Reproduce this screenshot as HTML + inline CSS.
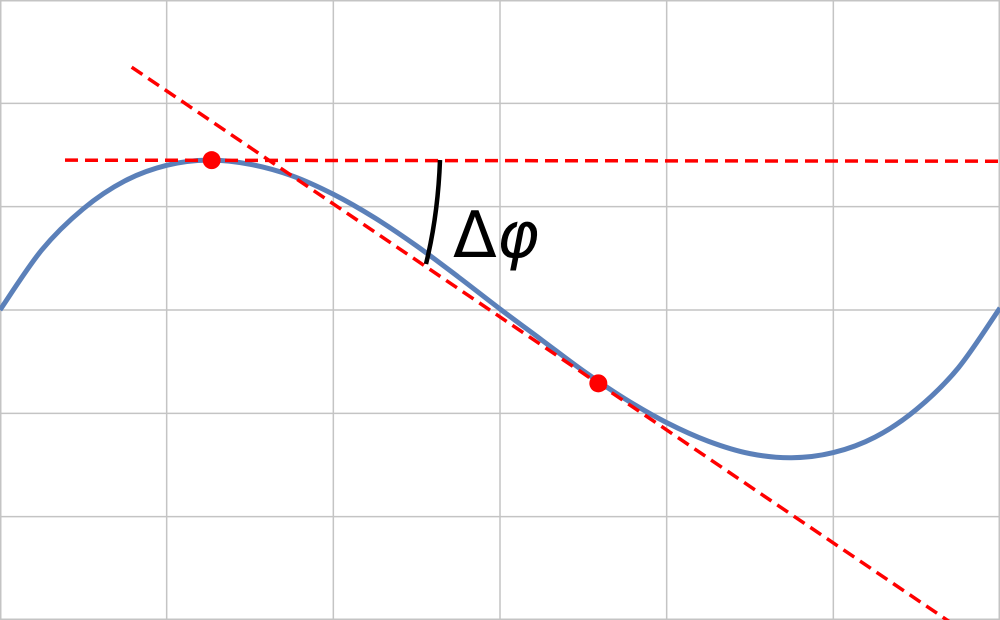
<!DOCTYPE html>
<html><head><meta charset="utf-8"><style>
html,body{margin:0;padding:0;background:#fff;}
svg{display:block;}
</style></head><body>
<svg id="chart" width="1000" height="620" viewBox="0 0 1000 620" xmlns="http://www.w3.org/2000/svg">
<g id="grid"></g>
<g id="marks"></g>
</svg>
<script>
const xTicks = [0,1,2,3,4,5,6];
const yTicks = [-3,-2,-1,0,1,2,3];
const curveX = [0,0.25,0.5,0.75,1,1.25,1.5,1.75,2,2.25,2.5,2.75,3,3.25,3.5,3.75,4,4.25,4.5,4.75,5,5.25,5.5,5.75,6];
const curveY = [0,0.58,0.98,1.25,1.40,1.45,1.41,1.30,1.12,0.89,0.62,0.32,0.01,-0.29,-0.59,-0.86,-1.09,-1.27,-1.39,-1.43,-1.38,-1.23,-0.96,-0.56,0.02];
const hLineX = [0.39,6];
const hLineY = [1.45,1.44];
const tanX = [0.79,5.7];
const tanY = [2.35,-3.02];
const pointX = [1.27,3.59];
const pointY = [1.45,-0.71];

const sx = v => v*1000/6;
const sy = v => 310 - v*103.33;
const NS = "http://www.w3.org/2000/svg";
const grid = document.getElementById('grid');
const marks = document.getElementById('marks');
function mk(tag, attrs, parent){const e=document.createElementNS(NS,tag);for(const k in attrs)e.setAttribute(k,attrs[k]);parent.appendChild(e);return e;}

xTicks.forEach(t=>{
  const l=mk('line',{x1:sx(t),x2:sx(t),y1:0,y2:620,stroke:'#c4c4c4','stroke-width':1.5},grid);
  
  
});
yTicks.forEach(t=>{
  const l=mk('line',{x1:0,x2:1000,y1:sy(t),y2:sy(t),stroke:'#c4c4c4','stroke-width':1.5},grid);
  
  
});
const border=mk('rect',{x:0.75,y:0.75,width:998.5,height:618.5,fill:'none',stroke:'#c4c4c4','stroke-width':1.5},grid);



const pts=curveX.map((x,i)=>[sx(x),sy(curveY[i])]);
let d='M'+pts[0][0]+','+pts[0][1];
for(let i=0;i<pts.length-1;i++){
  const p0=pts[i-1]||pts[i],p1=pts[i],p2=pts[i+1],p3=pts[i+2]||pts[i+1];
  d+=' C'+(p1[0]+(p2[0]-p0[0])/6)+','+(p1[1]+(p2[1]-p0[1])/6)+' '+(p2[0]-(p3[0]-p1[0])/6)+','+(p2[1]-(p3[1]-p1[1])/6)+' '+p2[0]+','+p2[1];
}
const curve=mk('path',{d:d,fill:'none',stroke:'#5b80b9','stroke-width':5},marks);



const h=mk('line',{x1:sx(hLineX[0]),y1:sy(hLineY[0]),x2:sx(hLineX[1]),y2:sy(hLineY[1]),stroke:'#ff0000','stroke-width':3.5,'stroke-dasharray':'13,7'},marks);


const tg=mk('line',{x1:sx(tanX[0]),y1:sy(tanY[0]),x2:sx(tanX[1]),y2:sy(tanY[1]),stroke:'#ff0000','stroke-width':3.5,'stroke-dasharray':'13,7'},marks);



pointX.forEach((x,i)=>{
  const c=mk('circle',{cx:sx(x),cy:sy(pointY[i]),r:9,fill:'#ff0000'},marks);
  
  
});

const arc=mk('path',{d:'M440,160 Q438,215 426,264',fill:'none',stroke:'#000','stroke-width':4.5},marks);


const txt=mk('text',{x:453,y:257,'font-family':'"DejaVu Sans","Liberation Sans",sans-serif','font-size':64,fill:'#000'},marks);
txt.textContent='Δ';
const phi=mk('tspan',{'font-style':'italic'},txt);
phi.textContent='φ';


</script>
</body></html>
